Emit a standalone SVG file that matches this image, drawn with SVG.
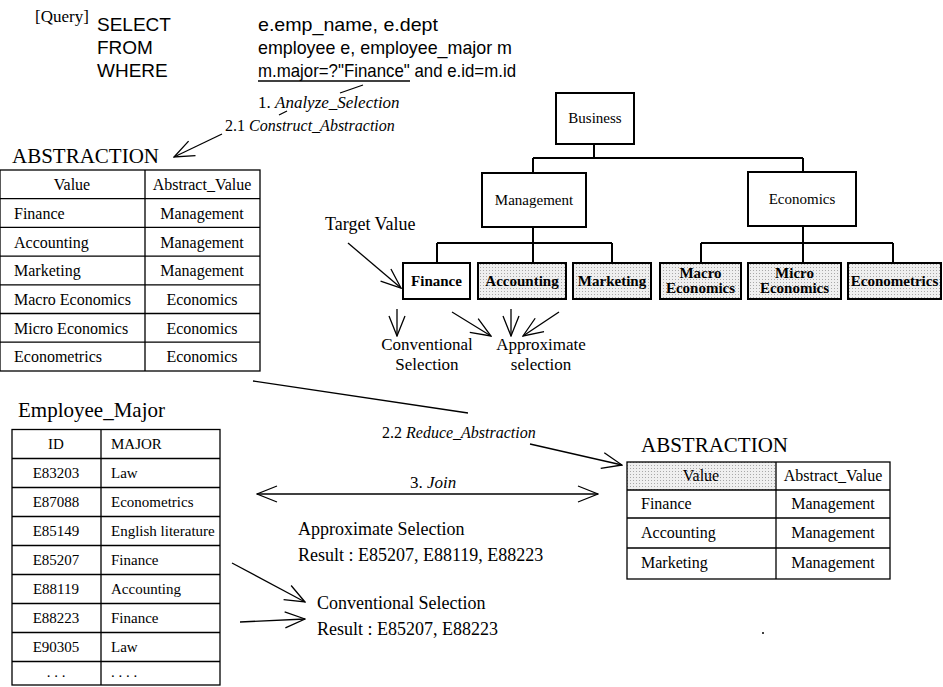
<svg xmlns="http://www.w3.org/2000/svg" width="943" height="687" viewBox="0 0 943 687">
<defs>
<marker id="ah" viewBox="0 0 22 18" markerWidth="22" markerHeight="18" refX="21" refY="9" orient="auto-start-reverse" markerUnits="userSpaceOnUse"><path d="M1,1 L21,9 L1,17" fill="none" stroke="#000" stroke-width="1.3"/></marker>
<pattern id="dots" width="3" height="3" patternUnits="userSpaceOnUse"><rect width="3" height="3" fill="#efefef"/><rect width="1" height="1" fill="#a8a8a8"/></pattern>
</defs>
<style>
.sans{font-family:"Liberation Sans",Arial,sans-serif;font-size:19px;fill:#000}
.serif{font-family:"Liberation Serif","Times New Roman",serif;fill:#000}
.it{font-style:italic}
.s15{font-size:15px}.s16{font-size:16px}.s17{font-size:17px}.s18{font-size:18px}.s21{font-size:21px}
.b{font-weight:bold}
.mid{text-anchor:middle}
.box{fill:#fff;stroke:#000;stroke-width:2}
.leaf{fill:url(#dots);stroke:#000;stroke-width:2}
.ln{stroke:#000;stroke-width:1.3;fill:none}
.tree{stroke:#000;stroke-width:2;fill:none}
.arr{stroke:#000;stroke-width:1.3;fill:none;marker-end:url(#ah)}
.dbl{stroke:#000;stroke-width:1.3;fill:none;marker-end:url(#ah);marker-start:url(#ah)}
</style>
<rect width="943" height="687" fill="#fff"/>

<g id="query">
<text class="serif s17" x="35" y="22">[Query]</text>
<text class="sans" x="97" y="31">SELECT</text>
<text class="sans" x="97" y="54">FROM</text>
<text class="sans" x="97" y="77">WHERE</text>
<text class="sans" x="258" y="31" textLength="180" lengthAdjust="spacingAndGlyphs">e.emp_name, e.dept</text>
<text class="sans" x="258" y="54" textLength="254" lengthAdjust="spacingAndGlyphs">employee e, employee_major m</text>
<text class="sans" x="258" y="77" textLength="258" lengthAdjust="spacingAndGlyphs">m.major=?"Finance" and e.id=m.id</text>
<line class="ln" x1="258" y1="81" x2="410" y2="81"/>
</g>

<g id="labels">
<text class="serif s17" x="258" y="108">1. <tspan class="it">Analyze_Selection</tspan></text>
<text class="serif s16" x="225" y="131">2.1 <tspan class="it">Construct_Abstraction</tspan></text>
<text class="serif s16" x="382" y="438">2.2 <tspan class="it">Reduce_Abstraction</tspan></text>
<text class="serif s17" x="410" y="488">3. <tspan class="it">Join</tspan></text>
<text class="serif s18" x="325" y="230">Target  Value</text>
<text class="serif s17 mid" x="427" y="350">Conventional</text>
<text class="serif s17 mid" x="427" y="370">Selection</text>
<text class="serif s17 mid" x="541" y="350">Approximate</text>
<text class="serif s17 mid" x="541" y="370">selection</text>
<text class="serif s18" x="298" y="535">Approximate Selection</text>
<text class="serif s18" x="298" y="561">Result : E85207, E88119, E88223</text>
<text class="serif s18" x="317" y="609">Conventional Selection</text>
<text class="serif s18" x="317" y="635">Result : E85207, E88223</text>
</g>

<g id="abstraction-table">
<text class="serif s21" x="12" y="163">ABSTRACTION</text>
<rect class="ln" x="0" y="170" width="260" height="201"/>
<path class="ln" d="M145,170V371 M0,198.7H260 M0,227.4H260 M0,256.1H260 M0,284.8H260 M0,313.5H260 M0,342.2H260"/>
<g class="serif s16">
<text class="mid" x="72" y="190">Value</text><text class="mid" x="202" y="190">Abstract_Value</text>
<text x="14" y="219">Finance</text><text class="mid" x="202" y="219">Management</text>
<text x="14" y="248">Accounting</text><text class="mid" x="202" y="248">Management</text>
<text x="14" y="276">Marketing</text><text class="mid" x="202" y="276">Management</text>
<text x="14" y="305">Macro Economics</text><text class="mid" x="202" y="305">Economics</text>
<text x="14" y="334">Micro Economics</text><text class="mid" x="202" y="334">Economics</text>
<text x="14" y="362">Econometrics</text><text class="mid" x="202" y="362">Economics</text>
</g>
</g>

<g id="employee-major-table">
<text class="serif s21" x="18" y="417">Employee_Major</text>
<rect class="ln" x="12" y="429.5" width="208" height="255.5"/>
<path class="ln" d="M101,429.5V685 M12,458.5H220 M12,487.5H220 M12,516.5H220 M12,545.5H220 M12,574.5H220 M12,603.5H220 M12,632.5H220 M12,661.5H220"/>
<g class="serif s15">
<text class="mid" x="56" y="449">ID</text><text x="111" y="449">MAJOR</text>
<text class="mid" x="56" y="478">E83203</text><text x="111" y="478">Law</text>
<text class="mid" x="56" y="507">E87088</text><text x="111" y="507">Econometrics</text>
<text class="mid" x="56" y="536">E85149</text><text x="111" y="536">English literature</text>
<text class="mid" x="56" y="565">E85207</text><text x="111" y="565">Finance</text>
<text class="mid" x="56" y="594">E88119</text><text x="111" y="594">Accounting</text>
<text class="mid" x="56" y="623">E88223</text><text x="111" y="623">Finance</text>
<text class="mid" x="56" y="652">E90305</text><text x="111" y="652">Law</text>
<text class="mid" x="56" y="677">. . .</text><text x="111" y="677">. . . .</text>
</g>
</g>

<g id="reduced-abstraction-table">
<text class="serif s21" x="641" y="452">ABSTRACTION</text>
<rect x="627" y="462" width="149" height="28" fill="url(#dots)"/>
<rect class="ln" x="627" y="462" width="263" height="117"/>
<path class="ln" d="M776,462V579 M627,490H890 M627,518H890 M627,548H890"/>
<g class="serif s16">
<text class="mid" x="701" y="481">Value</text><text class="mid" x="833" y="481">Abstract_Value</text>
<text x="641" y="509">Finance</text><text class="mid" x="833" y="509">Management</text>
<text x="641" y="538">Accounting</text><text class="mid" x="833" y="538">Management</text>
<text x="641" y="568">Marketing</text><text class="mid" x="833" y="568">Management</text>
</g>
</g>

<g id="node-business"><rect class="box" x="556" y="93" width="78" height="51"/><text class="serif s15 mid" x="595" y="123">Business</text></g>
<g id="node-management"><rect class="box" x="482" y="173" width="104" height="54"/><text class="serif s15 mid" x="534" y="205">Management</text></g>
<g id="node-economics"><rect class="box" x="748" y="172" width="108" height="54"/><text class="serif s15 mid" x="802" y="204">Economics</text></g>
<g id="node-finance"><rect class="box" x="403" y="263" width="67" height="36"/><text class="serif s15 b mid" x="436.5" y="286">Finance</text></g>
<g id="node-accounting"><rect class="leaf" x="478" y="263" width="88" height="36"/><text class="serif s15 b mid" x="522" y="286">Accounting</text></g>
<g id="node-marketing"><rect class="leaf" x="573" y="263" width="78" height="36"/><text class="serif s15 b mid" x="612" y="286">Marketing</text></g>
<g id="node-macro"><rect class="leaf" x="660" y="263" width="81" height="36"/><text class="serif s15 b mid" x="700.5" y="278">Macro</text><text class="serif s15 b mid" x="700.5" y="293">Economics</text></g>
<g id="node-micro"><rect class="leaf" x="748" y="263" width="93" height="36"/><text class="serif s15 b mid" x="794.5" y="278">Micro</text><text class="serif s15 b mid" x="794.5" y="293">Economics</text></g>
<g id="node-econometrics"><rect class="leaf" x="848" y="263" width="93" height="36"/><text class="serif s15 b mid" x="894.5" y="286">Econometrics</text></g>

<g id="connectors">
<path class="tree" d="M594,144V158 M533,158H803 M533,158V173 M803,158V172 M533,227V263 M437,243H612 M437,243V263 M612,243V263 M803,226V263 M701,243H893 M701,243V263 M893,243V263"/>
<path class="ln" d="M340,93L363,85 M287,111L279,115 M253,381L468,413"/>
<path class="arr" d="M222,134L174,157"/>
<path class="arr" d="M348,243L401,288"/>
<path class="arr" d="M397,309V336"/>
<path class="arr" d="M452,312L491,336"/>
<path class="arr" d="M511,309V336"/>
<path class="arr" d="M559,312L523,336"/>
<path class="arr" d="M530,444L622,465"/>
<path class="dbl" d="M257,494H598"/>
<path class="arr" d="M232,563L305,602"/>
<path class="arr" d="M240,622L305,619"/>
</g>
<circle cx="763" cy="633" r="1" fill="#000"/>
</svg>
